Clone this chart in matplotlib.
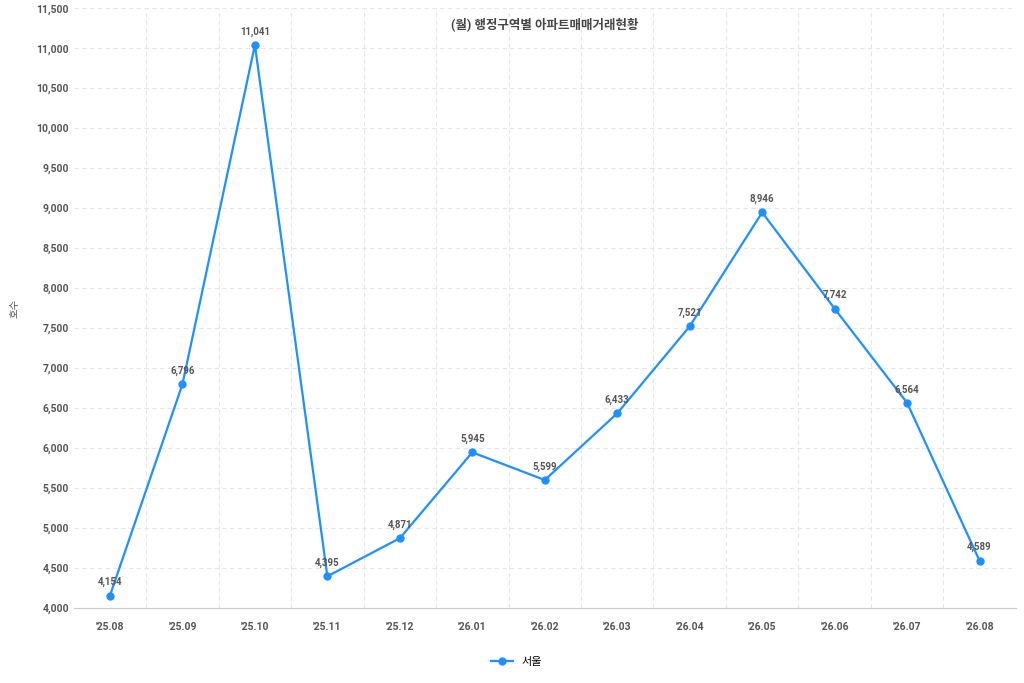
import matplotlib
matplotlib.use("Agg")
import matplotlib.pyplot as plt
from matplotlib.ticker import MultipleLocator, FuncFormatter

plt.rcParams['font.family'] = ['Roboto', 'Noto Sans CJK KR', 'DejaVu Sans']

labels = ["'25.08","'25.09","'25.10","'25.11","'25.12","'26.01","'26.02","'26.03","'26.04","'26.05","'26.06","'26.07","'26.08"]
values = [4154, 6796, 11041, 4395, 4871, 5945, 5599, 6433, 7521, 8946, 7742, 6564, 4589]
series_name = "서울"
title = "(월) 행정구역별 아파트매매거래현황"
color = "#1E90FF"

fig = plt.figure(figsize=(10.24, 6.83), dpi=100)
ax = fig.add_axes([0.072, 0.11, 0.92, 0.878])
x = list(range(len(labels)))
ax.plot(x, values, color=color, lw=1.6, marker='o', ms=5, label=series_name)
for xi, v in zip(x, values):
    ax.annotate(f"{v:,}", (xi, v), xytext=(0, 6), textcoords='offset points',
                ha='center', va='bottom', fontsize=7, color='#555555', fontweight='bold')
ax.set_xlim(-0.5, len(labels) - 0.5)
ax.set_ylim(4000, 11500)
ax.yaxis.set_major_locator(MultipleLocator(500))
ax.yaxis.set_major_formatter(FuncFormatter(lambda v, p: f"{int(v):,}"))
ax.set_xticks(x)
ax.set_xticklabels(labels)
ax.set_xticks([i + 0.5 for i in x[:-1]], minor=True)
ax.grid(False)
ax.grid(axis='y', which='major', color='#e6e6e6', ls=(0, (4, 3)), lw=0.8)
ax.grid(axis='x', which='minor', color='#e6e6e6', ls=(0, (4, 3)), lw=0.8)
ax.tick_params(axis='both', which='both', length=0, labelsize=7.5, labelcolor='#555555')
for lab in ax.get_xticklabels() + ax.get_yticklabels():
    lab.set_fontweight('bold')
for s in ['top', 'right', 'left']:
    ax.spines[s].set_visible(False)
ax.spines['bottom'].set_color('#cccccc')
ax.set_ylabel("호수", fontsize=7.5, color='#555555')
ax.yaxis.set_label_coords(-0.058, 0.5)
ax.text(0.5, 0.985, title, transform=ax.transAxes, ha='center', va='top',
        fontsize=9, fontweight='bold', color='#444444')
ax.tick_params(axis='x', pad=10)
ax.legend(loc='upper center', bbox_to_anchor=(0.47, -0.065), frameon=False, fontsize=8)
fig.savefig("out.png", dpi=100)
